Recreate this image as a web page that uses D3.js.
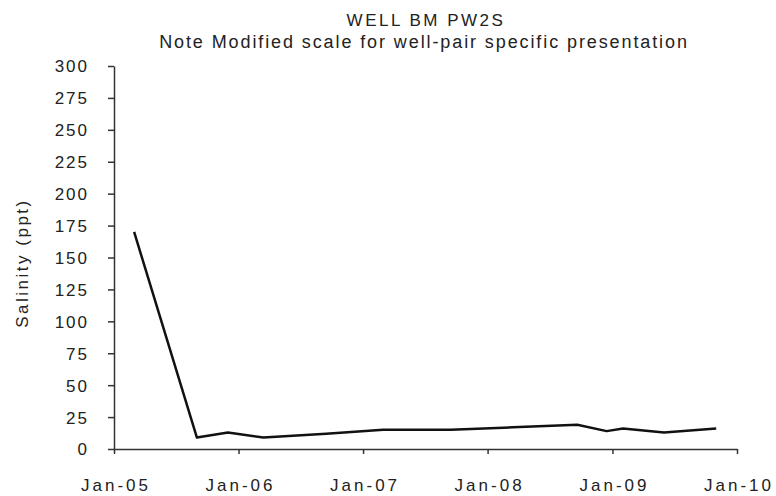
<!DOCTYPE html>
<html>
<head>
<meta charset="utf-8">
<script src="https://cdn.jsdelivr.net/npm/d3@7"></script>
<style>
  html, body { margin: 0; padding: 0; background: #fff; }
  svg { display: block; }
  text { font-family: "Liberation Sans", Arial, sans-serif; fill: #222; }
</style>
</head>
<body>
<svg id="chart" width="776" height="496"></svg>
<script>
// Salinity samples for well BM PW2S
const sampleDates = [
  "2005-03-01", "2005-09-01", "2005-12-01", "2006-03-15", "2006-09-15",
  "2007-03-01", "2007-09-15", "2008-03-15", "2008-09-20", "2008-12-15",
  "2009-02-01", "2009-06-01", "2009-11-01"
];
const salinity = [170, 9, 13, 9, 12, 15, 15, 17, 19, 14, 16, 13, 16];

const yTicks = [0, 25, 50, 75, 100, 125, 150, 175, 200, 225, 250, 275, 300];
const xTickDates = ["2005-01-01", "2006-01-01", "2007-01-01", "2008-01-01", "2009-01-01", "2010-01-01"];

const titleText = "WELL BM PW2S";
const subtitleText = "Note Modified scale for well-pair specific presentation";
const yAxisTitle = "Salinity (ppt)";

const parse = d3.timeParse("%Y-%m-%d");
const data = sampleDates.map((d, i) => ({ date: parse(d), value: salinity[i] }));

const margin = { left: 114, right: 39, top: 66, bottom: 47 };

const svg = d3.select("#chart");

const x = d3.scaleTime()
  .domain([parse(xTickDates[0]), parse(xTickDates[xTickDates.length - 1])])
  .range([margin.left, 737]);
const y = d3.scaleLinear()
  .domain([0, 300])
  .range([449, margin.top]);

// Titles
svg.append("text")
  .attr("x", 426).attr("y", 26)
  .attr("text-anchor", "middle")
  .style("font-size", "17px")
  .style("letter-spacing", "2.5px")
  .text(titleText);
svg.append("text")
  .attr("x", 424).attr("y", 48)
  .attr("text-anchor", "middle")
  .style("font-size", "18px")
  .style("letter-spacing", "1.9px")
  .text(subtitleText);

// Y axis
const yAxis = svg.append("g")
  .attr("transform", `translate(${margin.left},0)`)
  .call(d3.axisLeft(y).tickValues(yTicks).tickSize(6).tickPadding(19).tickSizeOuter(0));
yAxis.selectAll("text").style("font-size", "17px").style("letter-spacing", "2px").attr("dy", "0.35em");

// X axis
const xAxis = svg.append("g")
  .attr("transform", `translate(0,${y(0)})`)
  .call(d3.axisBottom(x).tickValues(xTickDates.map(parse)).tickFormat(d3.timeFormat("Jan-%y"))
    .tickSize(5).tickPadding(25).tickSizeOuter(0));
xAxis.selectAll("text").style("font-size", "17px").style("letter-spacing", "3px").attr("dx", "1.5px");

svg.selectAll(".domain, .tick line").attr("stroke", "#333").attr("stroke-width", 1.5);

// Y axis title
svg.append("text")
  .attr("transform", "translate(28,263) rotate(-90)")
  .attr("text-anchor", "middle")
  .style("font-size", "17px")
  .style("letter-spacing", "2.5px")
  .text(yAxisTitle);

// Salinity line
svg.append("path")
  .datum(data)
  .attr("fill", "none")
  .attr("stroke", "#111")
  .attr("stroke-width", 2.5)
  .attr("stroke-linejoin", "round")
  .attr("d", d3.line().x(d => x(d.date)).y(d => y(d.value)));
</script>
</body>
</html>
